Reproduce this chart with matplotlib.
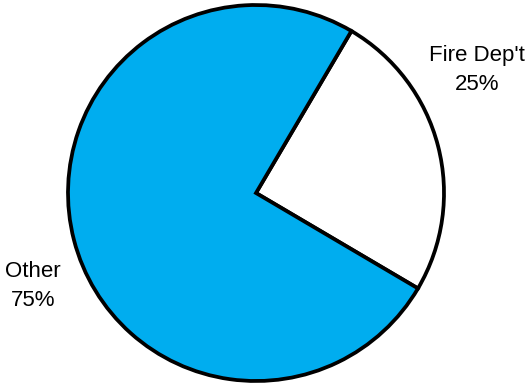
import matplotlib.pyplot as plt

# Data
labels = ["Fire Dep't", "Other"]
shares = [25, 75]
colors = ["#ffffff", "#00adef"]

plt.rcParams['font.family'] = ['Liberation Sans', 'DejaVu Sans']

fig = plt.figure(figsize=(5.31, 3.86), dpi=100)
ax = fig.add_axes([0, 0, 1, 1])

ax.pie(shares, colors=colors, startangle=59.5, counterclock=False,
       center=(256, 193), radius=188, frame=True,
       wedgeprops=dict(edgecolor='black', linewidth=2.7))
ax.set_xlim(0, 531)
ax.set_ylim(0, 386)
ax.set_aspect('equal')
ax.axis('off')

label_pos = [(477, 316), (33, 100)]
for name, val, (x, y) in zip(labels, shares, label_pos):
    ax.text(x, y, f"{name}\n{val}%", ha='center', va='center',
            fontsize=16, linespacing=1.45)

fig.savefig("out.png", dpi=100)
